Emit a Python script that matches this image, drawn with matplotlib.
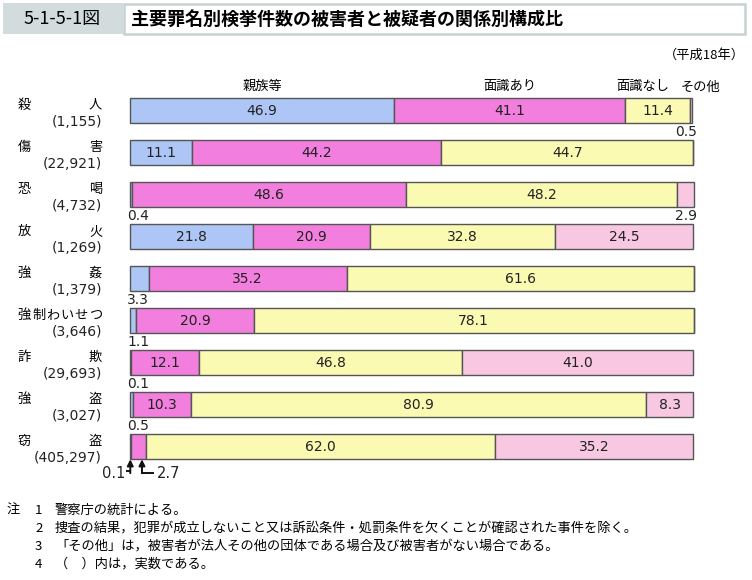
import matplotlib
matplotlib.use("Agg")
import matplotlib.pyplot as plt
from matplotlib.patches import Rectangle

plt.rcParams['font.family'] = ['Noto Sans CJK JP', 'DejaVu Sans']

# ---- data ----
crimes = ["殺人", "傷害", "恐喝", "放火", "強姦", "強制わいせつ", "詐欺", "強盗", "窃盗"]
counts = ["1,155", "22,921", "4,732", "1,269", "1,379", "3,646", "29,693", "3,027", "405,297"]
series_names = ["親族等", "面識あり", "面識なし", "その他"]
kin = [46.9, 11.1, 0.4, 21.8, 3.3, 1.1, 0.1, 0.5, 0.1]
acquaint = [41.1, 44.2, 48.6, 20.9, 35.2, 20.9, 12.1, 10.3, 2.7]
stranger = [11.4, 44.7, 48.2, 32.8, 61.6, 78.1, 46.8, 80.9, 62.0]
other = [0.5, 0.0, 2.9, 24.5, 0.0, 0.0, 41.0, 8.3, 35.2]
notes = [
    ("注", "1", "警察庁の統計による。"),
    ("", "2", "捜査の結果，犯罪が成立しないこと又は訴訟条件・処罰条件を欠くことが確認された事件を除く。"),
    ("", "3", "「その他」は，被害者が法人その他の団体である場合及び被害者がない場合である。"),
    ("", "4", "（　）内は，実数である。"),
]

colors = ["#adc6f5", "#f27ede", "#fafab2", "#f8c8e2"]
edge = "#555555"
txtc = "#222222"

W, H = 752, 580
fig = plt.figure(figsize=(W / 100, H / 100), dpi=100)


def fx(px):
    return px / W


def fy(py):
    return 1 - py / H


# ---- title band ----
fig.patches.append(Rectangle((fx(3), fy(34)), fx(120), 31 / H, transform=fig.transFigure,
                             facecolor="#d2dcdc", edgecolor="none"))
fig.patches.append(Rectangle((fx(124), fy(33.5)), fx(621), 29.5 / H, transform=fig.transFigure,
                             facecolor="white", edgecolor="#c6d2d2", linewidth=1.8))
fig.text(fx(62), fy(19), "5-1-5-1図", ha="center", va="center", fontsize=13,
         family=["Noto Sans CJK JP"])
fig.text(fx(131), fy(19), "主要罪名別検挙件数の被害者と被疑者の関係別構成比", ha="left", va="center",
         fontsize=13, fontweight="bold")
fig.text(fx(745), fy(55), "（平成18年）", ha="right", va="center", fontsize=9.5)

# ---- axes ----
row0, step = 110.8, 42.0
top_px = row0 - step / 2
bot_px = row0 + step * (len(crimes) - 1) + step / 2
ax = fig.add_axes([fx(130), fy(bot_px), fx(693) - fx(130), (bot_px - top_px) / H])
ax.set_xlim(0, 100)
ax.set_ylim(len(crimes) - 0.5, -0.5)
ax.axis("off")

bh = 25 / step
series = [kin, acquaint, stranger, other]
ys = list(range(len(crimes)))
lefts = [0.0] * len(crimes)
for s, vals in enumerate(series):
    bars = ax.barh(ys, vals, left=lefts, height=bh, color=colors[s], edgecolor=edge, linewidth=1.0)
    for b in bars:
        b.set_clip_on(False)
    lefts = [l + v for l, v in zip(lefts, vals)]

num_fs = 10
below = bh / 2 + 0.2
for i in ys:
    vals = [series[s][i] for s in range(4)]
    cum = 0.0
    small_left = []
    for s, v in enumerate(vals):
        if v <= 0:
            cum += v
            continue
        if v >= 5:
            ax.text(cum + v / 2, i, f"{v:.1f}", ha="center", va="center", fontsize=num_fs,
                    family=["DejaVu Sans"], color=txtc)
        else:
            small_left.append((s, v, cum))
        cum += v
    if len(small_left) == 2 and small_left[0][0] == 0 and small_left[1][0] == 1:
        # two adjacent tiny segments at the left: arrows
        (s0, v0, c0), (s1, v1, c1) = small_left
        ytop = i + bh / 2
        ya = ytop + 0.33
        xa0 = c0 + v0 / 2
        xa1 = c1 + v1 * 0.75
        for xa in (xa0, xa1):
            ax.annotate("", xy=(xa, ytop), xytext=(xa, ya),
                        arrowprops=dict(arrowstyle="-|>", color="#111111", lw=1.4,
                                        mutation_scale=9, shrinkA=0, shrinkB=0),
                        annotation_clip=False)
        ax.plot([xa0 - 0.6, xa0], [ya - 0.05, ya - 0.05], color="#111111", lw=1.4, clip_on=False)
        ax.plot([xa1, xa1 + 2.0], [ya, ya], color="#111111", lw=1.4, clip_on=False)
        ax.text(xa0 - 0.9, ya, f"{v0:.1f}", ha="right", va="center", fontsize=10.5,
                family=["DejaVu Sans"], color=txtc)
        ax.text(xa1 + 2.6, ya, f"{v1:.1f}", ha="left", va="center", fontsize=10.5,
                family=["DejaVu Sans"], color=txtc)
    else:
        for s, v, c in small_left:
            if c < 50:
                ax.text(-0.5, i + below, f"{v:.1f}", ha="left", va="center", fontsize=num_fs,
                        family=["DejaVu Sans"], color=txtc)
            else:
                ax.text(100.7, i + below, f"{v:.1f}", ha="right", va="center", fontsize=num_fs,
                        family=["DejaVu Sans"], color=txtc)

# ---- series headers above first bar ----
hdr_y = -0.57
c = 0.0
hx = []
for s in range(4):
    hx.append(c + series[s][0] / 2)
    c += series[s][0]
hx[2] = 91.1
hx[3] = 101.4
for s, name in enumerate(series_names):
    ax.text(hx[s], hdr_y, name, ha="center", va="center", fontsize=9.5, clip_on=False)

# ---- category labels (characters spread between x=18 and x=102) ----
for i, (name, cnt) in enumerate(zip(crimes, counts)):
    yc = row0 + step * i
    n = len(name)
    first_c, last_c = 18 + 6.5, 102 - 6.5
    for j, ch in enumerate(name):
        xc = first_c + j * (last_c - first_c) / (n - 1)
        fig.text(fx(xc), fy(yc - 5.5), ch, ha="center", va="center", fontsize=9.5)
    fig.text(fx(102), fy(yc + 11), f"({cnt})", ha="right", va="center", fontsize=10,
             family=["DejaVu Sans"], color=txtc)

# ---- notes ----
for k, (a, n, t) in enumerate(notes):
    yy = 510 + 18 * k
    if a:
        fig.text(fx(7), fy(yy), a, ha="left", va="center", fontsize=9.5)
    fig.text(fx(35), fy(yy), n, ha="left", va="center", fontsize=9.5)
    fig.text(fx(55), fy(yy), t, ha="left", va="center", fontsize=9.5)

fig.savefig("out.png", dpi=100)
